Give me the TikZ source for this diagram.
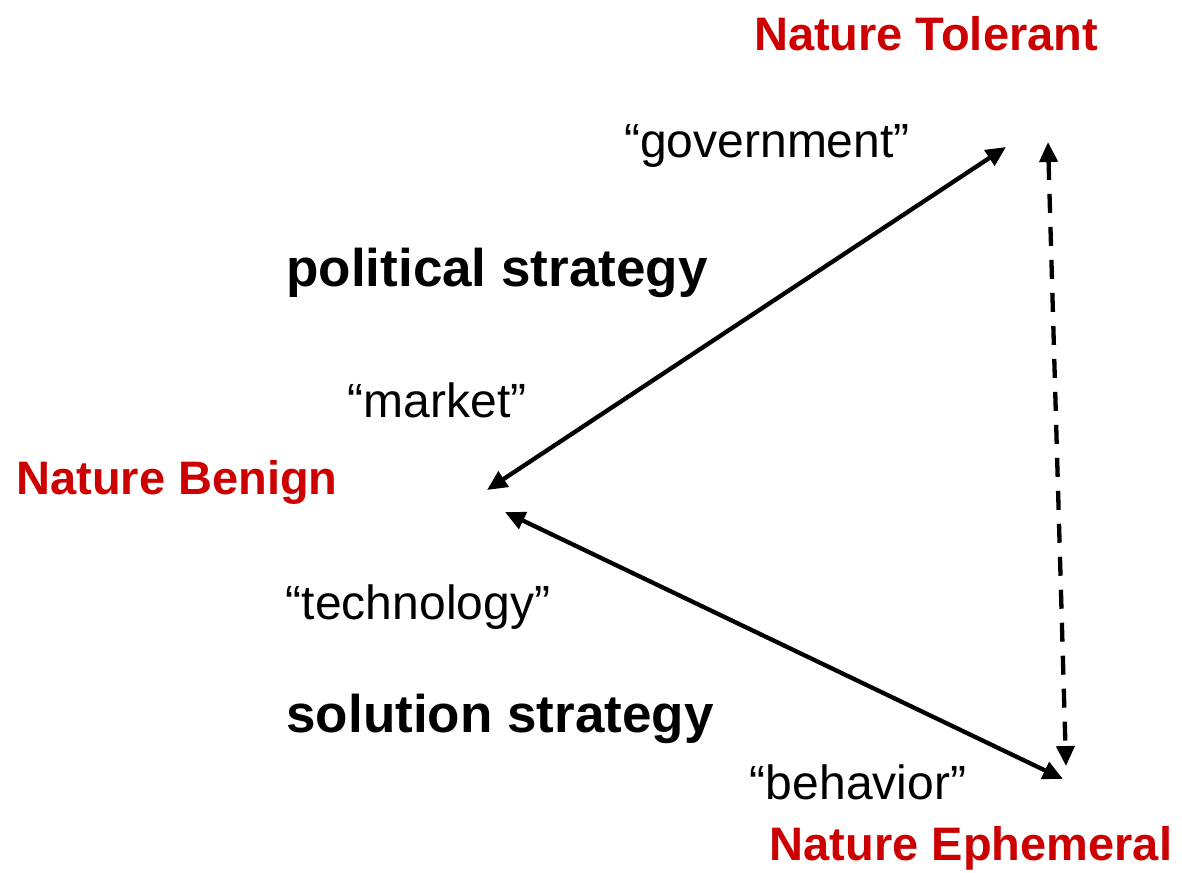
\documentclass[tikz,border=0pt]{standalone}
\usepackage{fontspec}
\setmainfont{Liberation Sans}
\usetikzlibrary{arrows.meta}
\definecolor{natred}{RGB}{204,0,0}
\tikzset{
  nat/.style={text=natred,font=\fontsize{47}{50}\selectfont\bfseries,inner sep=0pt},
  strat/.style={text=black,font=\fontsize{53}{56}\selectfont\bfseries,inner sep=0pt},
  quot/.style={text=black,font=\fontsize{48}{52}\selectfont,inner sep=0pt},
  conn/.style={line width=4.3pt,{Triangle[length=20pt,width=18pt]}-{Triangle[length=20pt,width=18pt]}},
  dconn/.style={conn,dash pattern=on 19pt off 14pt}
}
\begin{document}
\begin{tikzpicture}[x=1pt,y=-1pt]
\useasboundingbox[fill=white] (0,0) rectangle (1182,872);
\node[nat] (tol) at (926,34) {Nature Tolerant};
\node[quot] (gov) at (767,146) {“government”};
\node[strat] (pol) at (497,273) {political strategy};
\node[quot] (mkt) at (437,400) {“market”};
\node[nat] (ben) at (177,482) {Nature Benign};
\node[quot] (tech) at (418,607) {“technology”};
\node[strat] (sol) at (500,719) {solution strategy};
\node[quot] (beh) at (858,782) {“behavior”};
\node[nat] (eph) at (971,848) {Nature Ephemeral};
\coordinate (bA) at (487,490);
\coordinate (tA) at (1006,147);
\coordinate (bB) at (505,512);
\coordinate (eB) at (1063,779);
\coordinate (tC) at (1048,142);
\coordinate (eC) at (1066,766);
\draw[conn] (bA) -- (tA);
\draw[conn] (bB) -- (eB);
\draw[dconn] (tC) -- (eC);
\end{tikzpicture}
\end{document}
